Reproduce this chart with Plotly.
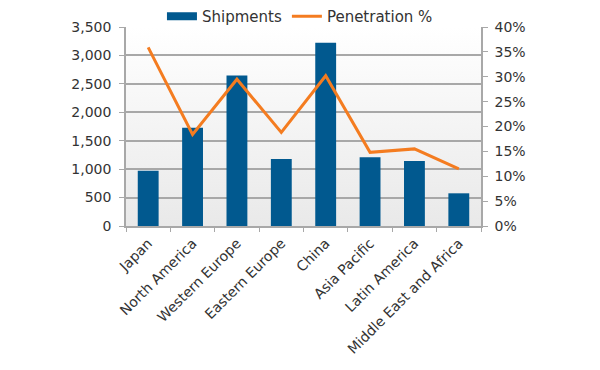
import base64
import plotly.graph_objects as go

regions = ["Japan", "North America", "Western Europe", "Eastern Europe", "China",
           "Asia Pacific", "Latin America", "Middle East and Africa"]
shipments = [970, 1730, 2645, 1180, 3225, 1210, 1145, 575]
penetration = [0.359, 0.184, 0.295, 0.188, 0.302, 0.148, 0.155, 0.115]

left_ticks = [0, 500, 1000, 1500, 2000, 2500, 3000, 3500]
right_ticks = [0, 0.05, 0.10, 0.15, 0.20, 0.25, 0.30, 0.35, 0.40]

BAR = "#01598f"
LINE = "#f47c20"
GRID = "#a8a8a8"
TXT = "#333333"
FONT = "DejaVu Sans"

svg = ('<svg xmlns="http://www.w3.org/2000/svg" width="100" height="100" preserveAspectRatio="none">'
       '<defs><linearGradient id="g" x1="0" y1="0" x2="0" y2="1">'
       '<stop offset="0" stop-color="#ffffff"/><stop offset="1" stop-color="#e9e9e9"/>'
       '</linearGradient></defs><rect width="100" height="100" fill="url(#g)"/></svg>')
uri = "data:image/svg+xml;base64," + base64.b64encode(svg.encode()).decode()

fig = go.Figure()
fig.add_trace(go.Bar(x=regions, y=shipments, name="Shipments", marker_color=BAR,
                     marker_line_width=0, yaxis="y", showlegend=False))
# legend-only entry to get a wide rectangular swatch for the bars
fig.add_trace(go.Scatter(x=[None], y=[None], name="Shipments", mode="lines",
                         line=dict(color=BAR, width=8), yaxis="y"))
fig.add_trace(go.Scatter(x=regions, y=penetration, name="Penetration %", mode="lines",
                         line=dict(color=LINE, width=3), yaxis="y2"))

fig.update_layout(
    width=600, height=370,
    margin=dict(l=126, r=119, t=27, b=144, autoexpand=False),
    paper_bgcolor="white", plot_bgcolor="rgba(0,0,0,0)",
    font=dict(family=FONT, size=14, color=TXT),
    bargap=0.53,
    showlegend=True,
    hovermode=False,
    legend=dict(orientation="h", x=0.49, xanchor="center", yref="container", y=1.0,
                yanchor="top", font=dict(size=15, color=TXT), bgcolor="rgba(0,0,0,0)",
                itemwidth=30, tracegroupgap=0),
    images=[dict(source=uri, xref="paper", yref="paper", x=0, y=1, sizex=1, sizey=1,
                 sizing="stretch", layer="below", xanchor="left", yanchor="top")],
    xaxis=dict(type="category", tickangle=-45, tickson="boundaries", ticks="outside",
               ticklen=4, tickcolor=GRID, showline=True, linecolor=GRID, linewidth=1.5,
               showgrid=False, automargin=False, ticklabelstandoff=2,
               tickfont=dict(size=14, color=TXT)),
    yaxis=dict(range=[0, 3500], tickvals=left_ticks, tickformat=",", showgrid=True,
               gridcolor=GRID, gridwidth=1.5, showline=True, linecolor=GRID, linewidth=1.5,
               ticks="outside", ticklen=5, tickcolor=GRID, zeroline=False, automargin=False,
               ticklabelstandoff=5, tickfont=dict(size=14, color=TXT)),
    yaxis2=dict(range=[0, 0.40], tickvals=right_ticks, tickformat=".0%", overlaying="y",
                side="right", showgrid=False, showline=True, linecolor=GRID, linewidth=1.5,
                ticks="outside", ticklen=5, tickcolor=GRID, zeroline=False, automargin=False,
                ticklabelstandoff=4, tickfont=dict(size=14, color=TXT)),
)

fig.write_html("out.html", config={"displayModeBar": False},
               post_script="document.body.style.margin='0';")
